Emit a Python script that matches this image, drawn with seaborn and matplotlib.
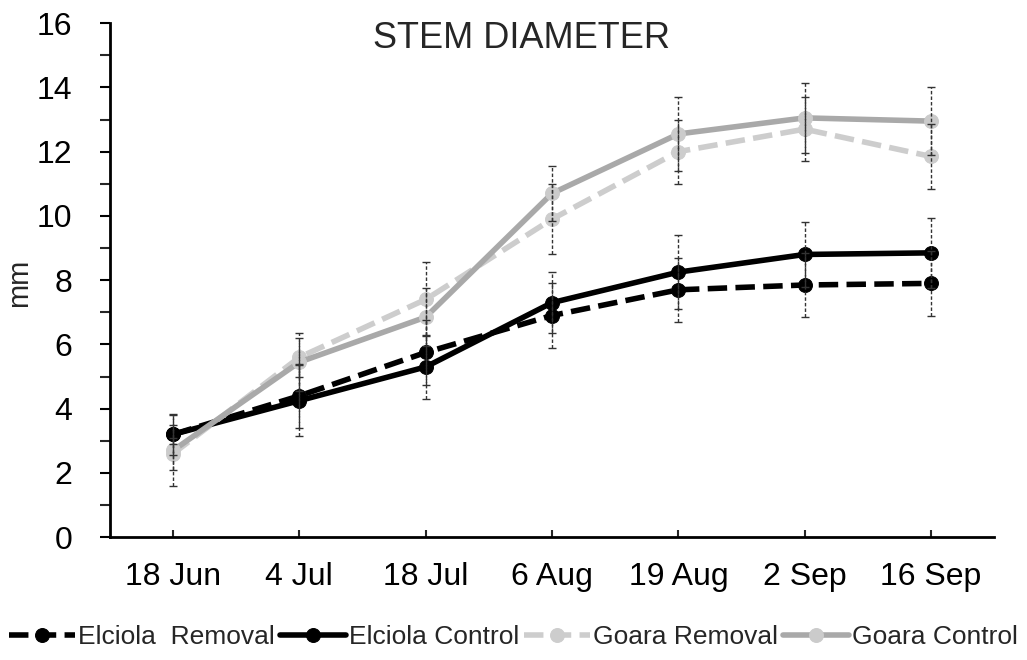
import matplotlib
matplotlib.use("Agg")
import matplotlib.pyplot as plt
import seaborn as sns
import pandas as pd
import numpy as np

dates = ["18 Jun", "4 Jul", "18 Jul", "6 Aug", "19 Aug", "2 Sep", "16 Sep"]
series_names = ["Elciola  Removal", "Elciola Control", "Goara Removal", "Goara Control"]
elciola_removal = [3.2, 4.4, 5.75, 6.9, 7.7, 7.85, 7.9]
elciola_control = [3.2, 4.25, 5.3, 7.3, 8.25, 8.8, 8.85]
goara_removal = [2.6, 5.6, 7.4, 9.9, 12.0, 12.7, 11.85]
goara_control = [2.7, 5.45, 6.85, 10.7, 12.55, 13.05, 12.95]
elciola_removal_err = [0.3, 1.0, 1.0, 1.0, 1.0, 1.0, 1.0]
elciola_control_err = [0.65, 1.1, 1.0, 0.95, 1.15, 1.0, 1.1]
goara_removal_err = [0.5, 0.6, 1.15, 1.1, 1.0, 1.0, 1.0]
goara_control_err = [1.1, 0.9, 0.9, 0.85, 1.15, 1.1, 1.05]

values = [elciola_removal, elciola_control, goara_removal, goara_control]
errors = [elciola_removal_err, elciola_control_err, goara_removal_err, goara_control_err]

df = pd.DataFrame({
    "date": dates * 4,
    "value": sum(values, []),
    "series": sum([[n] * len(dates) for n in series_names], []),
})

sns.set_theme(style="white")
plt.rcParams["font.family"] = ["Liberation Sans", "DejaVu Sans"]

fig = plt.figure(figsize=(10.27, 6.6), dpi=100)
ax = fig.add_axes([0.107, 0.186, 0.861, 0.779])

styles = [
    dict(color="black", ls=(0, (3.5, 1.5)), mfc="black", mec="black"),
    dict(color="black", ls="-", mfc="black", mec="black"),
    dict(color="#cdcdcd", ls=(0, (3.5, 1.5)), mfc="#cdcdcd", mec="#cdcdcd"),
    dict(color="#a9a9a9", ls="-", mfc="#cbcbcb", mec="#cbcbcb"),
]

handles = []
for name, vals, errs, st in zip(series_names, values, errors, styles):
    sub = df[df["series"] == name]
    sns.lineplot(data=sub, x="date", y="value", ax=ax, sort=False,
                 color=st["color"], lw=4.0, marker="o", markersize=10,
                 markerfacecolor=st["mfc"], markeredgecolor=st["mec"],
                 linestyle=st["ls"], legend=False, zorder=2)
    line = ax.get_lines()[-1]
    line.set_linestyle(st["ls"])
    handles.append(line)

for vals, errs in zip(values, errors):
    eb = ax.errorbar(dates, vals, yerr=errs, fmt="none", ecolor="#333333",
                     elinewidth=1.0, capsize=3, capthick=1.0, zorder=4)
    eb[2][0].set_linestyle((0, (2.5, 1.5)))

ax.set_xlim(-0.5, 6.5)
ax.set_ylim(0, 16)
ax.set_yticks(np.arange(0, 17, 2))
ax.set_yticks(np.arange(1, 16, 2), minor=True)
ax.tick_params(axis="y", which="major", direction="out", length=7, width=1.5,
               labelsize=23, left=True, colors="black", pad=20)
ax.tick_params(axis="y", which="minor", direction="out", length=7, width=1.5, left=True)
ax.tick_params(axis="x", which="major", direction="in", length=5, width=1.5,
               labelsize=23, bottom=True, pad=18)
for lab in ax.get_xticklabels() + ax.get_yticklabels():
    lab.set_color("black")
ax.set_xlabel("")
ax.set_ylabel("mm", fontsize=21)
ax.yaxis.set_label_coords(-0.087, 0.494)
for s in ["top", "right"]:
    ax.spines[s].set_visible(False)
for s in ["left", "bottom"]:
    ax.spines[s].set_color("black")
    ax.spines[s].set_linewidth(2)

ax.text(0.466, 0.971, "STEM DIAMETER", transform=ax.transAxes, ha="center",
        va="center", fontsize=26)

fig.legend(handles, series_names, loc="center", bbox_to_anchor=(0.5, 0.035),
           ncol=4, frameon=False, fontsize=19, handlelength=2.5,
           handletextpad=0.1, columnspacing=0.2, borderaxespad=0)

fig.savefig("out.png", dpi=100)
